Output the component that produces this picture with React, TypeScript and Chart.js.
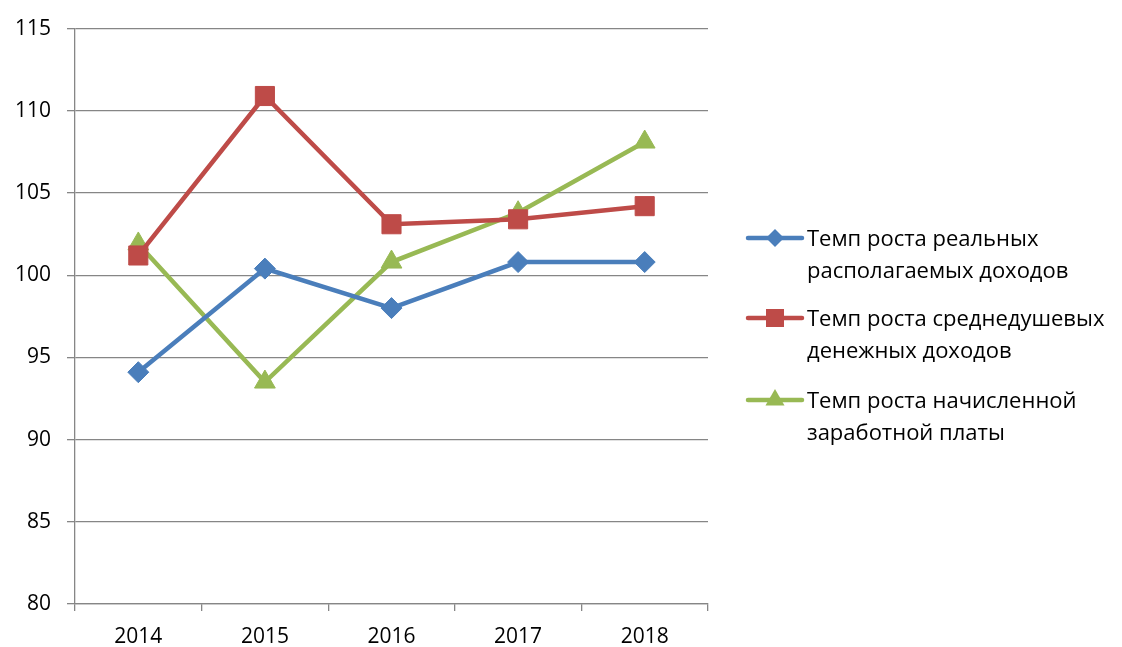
import React, { useEffect, useRef } from "react";
import { Chart, registerables } from "chart.js";

Chart.register(...registerables);

const years = ["2014", "2015", "2016", "2017", "2018"];
const realIncome = [94.1, 100.4, 98.0, 100.8, 100.8];
const perCapitaIncome = [101.2, 110.9, 103.1, 103.4, 104.2];
const accruedWage = [101.9, 93.5, 100.8, 103.8, 108.1];
const seriesNames = [
  ["Темп роста реальных", "располагаемых доходов"],
  ["Темп роста среднедушевых", "денежных доходов"],
  ["Темп роста начисленной", "заработной платы"],
];
const yMin = 80;
const yMax = 115;
const yStep = 5;

const BLUE = "#4A7EBB";
const RED = "#BE4B48";
const GREEN = "#98B954";
const FONT = "'Open Sans', 'Noto Sans', sans-serif";

const legendPlugin = {
  id: "sideLegend",
  afterDraw(chart: any) {
    const ctx = chart.ctx;
    const ds = chart.data.datasets;
    const rowsY = [238, 318, 400];
    const lineH = 32;
    ctx.save();
    ds.forEach((d: any, i: number) => {
      const y = rowsY[i];
      ctx.strokeStyle = d.borderColor;
      ctx.lineWidth = 4.5;
      ctx.lineCap = "round";
      ctx.beginPath();
      ctx.moveTo(748, y);
      ctx.lineTo(802, y);
      ctx.stroke();
      ctx.fillStyle = d.backgroundColor;
      ctx.beginPath();
      const cx = 775;
      if (d.pointStyle === "rectRot") {
        const r = 9;
        ctx.moveTo(cx, y - r);
        ctx.lineTo(cx + r, y);
        ctx.lineTo(cx, y + r);
        ctx.lineTo(cx - r, y);
      } else if (d.pointStyle === "rect") {
        const s = 9;
        ctx.rect(cx - s, y - s, 2 * s, 2 * s);
      } else {
        const r = 11;
        ctx.moveTo(cx, y - r);
        ctx.lineTo(cx + r * 0.866, y + r * 0.5);
        ctx.lineTo(cx - r * 0.866, y + r * 0.5);
      }
      ctx.closePath();
      ctx.fill();
      ctx.fillStyle = "#000";
      ctx.font = `22px ${FONT}`;
      ctx.textBaseline = "middle";
      ctx.textAlign = "left";
      seriesNames[i].forEach((t, j) => {
        ctx.fillText(t, 807, y + 2 + j * lineH);
      });
    });
    ctx.restore();
  },
};

export default function App() {
  const ref = useRef<HTMLCanvasElement>(null);
  useEffect(() => {
    if (!ref.current) return;
    const mk = (label: string, data: number[], color: string, style: string, r: number) => ({
      label,
      data,
      borderColor: color,
      backgroundColor: color,
      pointBackgroundColor: color,
      pointBorderColor: color,
      pointStyle: style,
      pointRadius: r,
      pointHoverRadius: r,
      borderWidth: 4.5,
      pointBorderWidth: 1,
      tension: 0,
    });
    const chart = new Chart(ref.current, {
      type: "line",
      data: {
        labels: years,
        datasets: [
          mk(seriesNames[0].join(" "), realIncome, BLUE, "rectRot", 10.5),
          mk(seriesNames[1].join(" "), perCapitaIncome, RED, "rect", 13.5),
          mk(seriesNames[2].join(" "), accruedWage, GREEN, "triangle", 12),
        ],
      },
      options: {
        animation: false,
        responsive: false,
        maintainAspectRatio: false,
        layout: { padding: { left: 0, right: 414, top: 28, bottom: 0 } },
        plugins: { legend: { display: false }, tooltip: { enabled: false } },
        scales: {
          x: {
            offset: true,
            grid: {
              offset: true,
              drawOnChartArea: false,
              tickLength: 7,
              color: "#868686",
              lineWidth: 1.3,
            },
            border: { color: "#868686", width: 1.3 },
            ticks: { color: "#000", font: { family: FONT, size: 21 }, padding: 13 },
            afterFit: (s: any) => {
              s.height = 43;
            },
          },
          y: {
            min: yMin,
            max: yMax,
            ticks: { stepSize: yStep, color: "#000", font: { family: FONT, size: 21 }, padding: 16 },
            grid: { color: "#868686", lineWidth: 1.3, tickLength: 8 },
            border: { color: "#868686", width: 1.3 },
            afterFit: (s: any) => {
              s.width = 75;
            },
          },
        },
      },
      plugins: [legendPlugin],
    });
    return () => chart.destroy();
  }, []);
  return (
    <div style={{ position: "fixed", left: 0, top: 0, width: 1122, height: 647, background: "#fff" }}>
      <canvas ref={ref} width={1122} height={647} style={{ width: 1122, height: 647 }} />
    </div>
  );
}
